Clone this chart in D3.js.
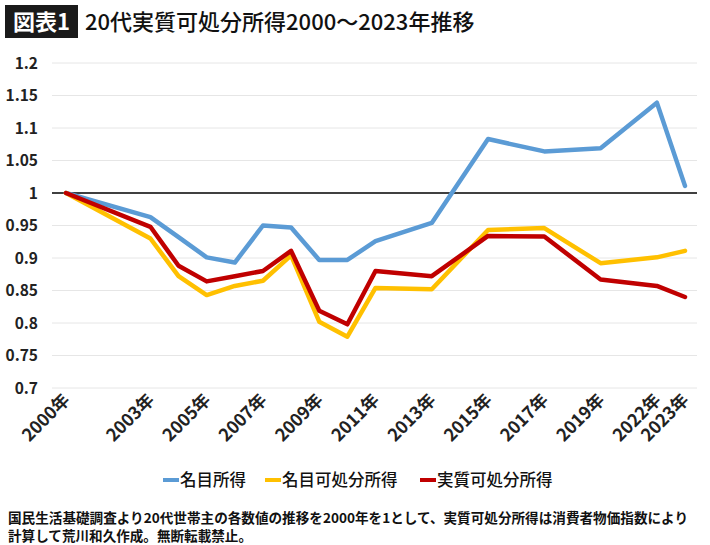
<!DOCTYPE html>
<html>
<head>
<meta charset="utf-8">
<script src="https://cdn.jsdelivr.net/npm/d3@7"></script>
<style>
  body { margin: 0; background: #ffffff; }
  text { font-family: "Noto Sans CJK JP", "Noto Sans", sans-serif; }
</style>
</head>
<body>
<script>
// Category axis: one slot per year (2020 has no slot)
var categories = [2000, 2001, 2002, 2003, 2004, 2005, 2006, 2007, 2008, 2009, 2010,
  2011, 2012, 2013, 2014, 2015, 2016, 2017, 2018, 2019, 2021, 2022, 2023];

// Years with survey values
var years = [2000, 2003, 2004, 2005, 2006, 2007, 2008, 2009, 2010, 2011, 2013, 2015, 2017, 2019, 2022, 2023];

// Tick labels shown on the axis
var labelYears = [2000, 2003, 2005, 2007, 2009, 2011, 2013, 2015, 2017, 2019, 2022, 2023];

var nominalIncome = [1.000, 0.963, 0.932, 0.901, 0.893, 0.950, 0.947, 0.897, 0.897, 0.926, 0.954, 1.083, 1.064, 1.069, 1.139, 1.011];
var nominalDisposable = [1.000, 0.930, 0.872, 0.843, 0.857, 0.865, 0.904, 0.802, 0.779, 0.854, 0.852, 0.943, 0.946, 0.892, 0.901, 0.911];
var realDisposable = [1.000, 0.948, 0.888, 0.864, 0.872, 0.880, 0.911, 0.819, 0.798, 0.880, 0.872, 0.934, 0.933, 0.867, 0.857, 0.840];

var yTicks = [0.7, 0.75, 0.8, 0.85, 0.9, 0.95, 1, 1.05, 1.1, 1.15, 1.2];

var seriesNames = ["名目所得", "名目可処分所得", "実質可処分所得"];
var seriesColors = ["#5b9bd5", "#ffc000", "#c00000"];
var seriesValues = [nominalIncome, nominalDisposable, realDisposable];

var width = 710,
  height = 545;

var svg = d3.select("body")
  .append("svg")
  .attr("width", width)
  .attr("height", height);

svg.append("rect")
  .attr("width", width)
  .attr("height", height)
  .attr("fill", "#ffffff");

// Title
svg.append("rect")
  .attr("x", 5)
  .attr("y", 5)
  .attr("width", 73)
  .attr("height", 33)
  .attr("fill", "#1a1a1a");

svg.append("text")
  .attr("x", 41.5)
  .attr("y", 30)
  .attr("text-anchor", "middle")
  .attr("fill", "#ffffff")
  .attr("font-size", 22)
  .attr("font-weight", "bold")
  .text("図表1");

svg.append("text")
  .attr("x", 85)
  .attr("y", 30)
  .attr("fill", "#111")
  .attr("font-size", 22)
  .attr("font-weight", "500")
  .text("20代実質可処分所得2000～2023年推移");

// Scales
var x = d3.scalePoint()
  .domain(categories)
  .range([66, 685]);

var y = d3.scaleLinear()
  .domain([0.7, 1.2])
  .range([388, 63]);

var gridLeft = 52,
  gridRight = 697;

// Gridlines
svg.selectAll(".grid")
  .data(yTicks.filter(function(d) { return d !== 1; }))
  .enter()
  .append("line")
  .attr("class", "grid")
  .attr("x1", gridLeft)
  .attr("x2", gridRight)
  .attr("y1", function(d) { return y(d); })
  .attr("y2", function(d) { return y(d); })
  .attr("stroke", "#e6e6e6")
  .attr("stroke-width", 1);

// Y labels
svg.selectAll(".ylab")
  .data(yTicks)
  .enter()
  .append("text")
  .attr("class", "ylab")
  .attr("x", 38)
  .attr("y", function(d) { return y(d) + 5.5; })
  .attr("text-anchor", "end")
  .attr("font-family", "'Noto Sans', sans-serif")
  .attr("font-size", 15.5)
  .attr("font-weight", "bold")
  .attr("fill", "#222")
  .text(function(d) { return String(d); });

// Baseline at 1
svg.append("line")
  .attr("x1", gridLeft)
  .attr("x2", gridRight)
  .attr("y1", y(1))
  .attr("y2", y(1))
  .attr("stroke", "#000")
  .attr("stroke-width", 1.5);

// X labels
svg.selectAll(".xlab")
  .data(labelYears)
  .enter()
  .append("text")
  .attr("class", "xlab")
  .attr("transform", function(d) {
    return "translate(" + (x(d) + 5) + ",401) rotate(-45)";
  })
  .attr("text-anchor", "end")
  .attr("font-size", 17.5)
  .attr("font-weight", "bold")
  .attr("fill", "#222")
  .text(function(d) { return d + "年"; });

// Lines
var line = d3.line()
  .x(function(d) { return x(d.year); })
  .y(function(d) { return y(d.value); });

seriesValues.forEach(function(vals, i) {
  var pts = years.map(function(yr, j) { return { year: yr, value: vals[j] }; });
  svg.append("path")
    .datum(pts)
    .attr("d", line)
    .attr("fill", "none")
    .attr("stroke", seriesColors[i])
    .attr("stroke-width", 4.5)
    .attr("stroke-linejoin", "round")
    .attr("stroke-linecap", "round");
});

// Legend
var legendX = [163, 265, 420];
seriesNames.forEach(function(name, i) {
  svg.append("line")
    .attr("x1", legendX[i])
    .attr("x2", legendX[i] + 16)
    .attr("y1", 480)
    .attr("y2", 480)
    .attr("stroke", seriesColors[i])
    .attr("stroke-width", 4);
  svg.append("text")
    .attr("x", legendX[i] + 17)
    .attr("y", 486)
    .attr("font-size", 16.5)
    .attr("font-weight", "500")
    .attr("fill", "#111")
    .text(name);
});

// Footnote
var notes = [
  "国民生活基礎調査より20代世帯主の各数値の推移を2000年を1として、実質可処分所得は消費者物価指数により",
  "計算して荒川和久作成。無断転載禁止。"
];
var noteLengths = [680, 244];
svg.selectAll(".note")
  .data(notes)
  .enter()
  .append("text")
  .attr("class", "note")
  .attr("x", 8)
  .attr("y", function(d, i) { return 523 + i * 18; })
  .attr("font-size", 13.5)
  .attr("font-weight", "bold")
  .attr("fill", "#111")
  .attr("textLength", function(d, i) { return noteLengths[i]; })
  .attr("lengthAdjust", "spacingAndGlyphs")
  .text(function(d) { return d; });
</script>
</body>
</html>
